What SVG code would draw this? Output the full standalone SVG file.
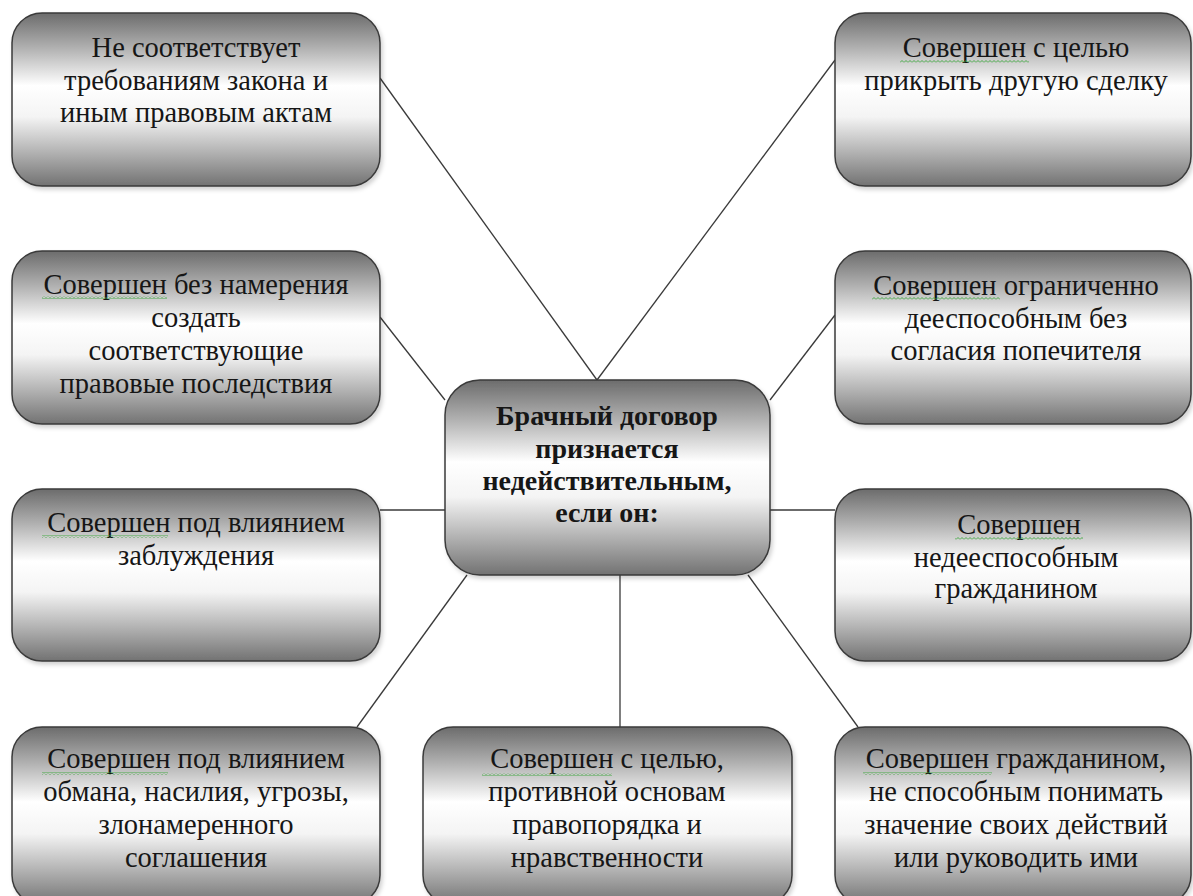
<svg xmlns="http://www.w3.org/2000/svg" width="1193" height="896" viewBox="0 0 1193 896">
<defs>
<linearGradient id="g" x1="0" y1="0" x2="0" y2="1">
<stop offset="0" stop-color="#6c6c6c"/>
<stop offset="0.2" stop-color="#b0b0b0"/>
<stop offset="0.42" stop-color="#ffffff"/>
<stop offset="0.6" stop-color="#f4f4f4"/>
<stop offset="0.8" stop-color="#b4b4b4"/>
<stop offset="1" stop-color="#727272"/>
</linearGradient>
<filter id="sh" x="-5%" y="-5%" width="115%" height="115%">
<feDropShadow dx="2" dy="3" stdDeviation="2" flood-color="#000" flood-opacity="0.18"/>
</filter>
<pattern id="wave" width="4" height="3" patternUnits="userSpaceOnUse">
<path d="M0 2.5 L2 0.5 L4 2.5" fill="none" stroke="#3aa63a" stroke-width="0.9"/>
</pattern>
<style>
.box{fill:url(#g);stroke:#3a3a3a;stroke-width:1.5;filter:url(#sh)}
.t{font-family:'Liberation Serif','DejaVu Serif',serif;font-size:28.5px;fill:#161616;text-anchor:middle}
.b{font-weight:bold;font-size:28px}
.c{stroke:#3a3a3a;stroke-width:1.3;fill:none}
.w{fill:url(#wave)}
</style>
</defs>
<rect width="1193" height="896" fill="#ffffff"/>
<g id="connectors">
<line class="c" x1="380" y1="78" x2="597" y2="380"/>
<line class="c" x1="835" y1="60" x2="597" y2="380"/>
<line class="c" x1="380" y1="317" x2="445" y2="400"/>
<line class="c" x1="835" y1="315" x2="770" y2="400"/>
<line class="c" x1="380" y1="510" x2="445" y2="510"/>
<line class="c" x1="770" y1="510" x2="835" y2="510"/>
<line class="c" x1="357" y1="727" x2="467" y2="575"/>
<line class="c" x1="620" y1="575" x2="620" y2="727"/>
<line class="c" x1="748" y1="575" x2="858" y2="727"/>
</g>
<g id="n1">
<rect class="box" x="12" y="13" width="368" height="173" rx="30"/>
<text class="t" x="196" y="57">Не соответствует</text>
<text class="t" x="196" y="90">требованиям закона и</text>
<text class="t" x="196" y="122">иным правовым актам</text>
</g>
<g id="n2">
<rect class="box" x="835" y="13" width="356" height="173" rx="30"/>
<text class="t" x="1016" y="57">Совершен с целью</text>
<text class="t" x="1016" y="90">прикрыть другую сделку</text>
<rect class="w" x="900" y="60" width="129" height="3"/>
</g>
<g id="n3">
<rect class="box" x="12" y="251" width="368" height="173" rx="30"/>
<text class="t" x="196" y="294">Совершен без намерения</text>
<text class="t" x="196" y="327">создать</text>
<text class="t" x="196" y="360">соответствующие</text>
<text class="t" x="196" y="393">правовые последствия</text>
<rect class="w" x="42" y="296" width="125" height="3"/>
</g>
<g id="n4">
<rect class="box" x="835" y="251" width="356" height="173" rx="30"/>
<text class="t" x="1016" y="295">Совершен ограниченно</text>
<text class="t" x="1016" y="328">дееспособным без</text>
<text class="t" x="1016" y="360">согласия попечителя</text>
<rect class="w" x="872" y="297" width="128" height="3"/>
</g>
<g id="center">
<rect class="box" x="445" y="380" width="325" height="195" rx="35"/>
<text class="t b" x="607" y="425">Брачный договор</text>
<text class="t b" x="607" y="458">признается</text>
<text class="t b" x="607" y="490">недействительным,</text>
<text class="t b" x="607" y="522">если он:</text>
</g>
<g id="n5">
<rect class="box" x="12" y="489" width="368" height="172" rx="30"/>
<text class="t" x="196" y="532">Совершен под влиянием</text>
<text class="t" x="196" y="565">заблуждения</text>
<rect class="w" x="42" y="535" width="126" height="3"/>
</g>
<g id="n6">
<rect class="box" x="835" y="489" width="356" height="172" rx="30"/>
<text class="t" x="1019" y="534">Совершен</text>
<text class="t" x="1016" y="567">недееспособным</text>
<text class="t" x="1016" y="598">гражданином</text>
<rect class="w" x="955" y="537" width="128" height="3"/>
</g>
<g id="n7">
<rect class="box" x="12" y="727" width="368" height="178" rx="30"/>
<text class="t" x="196" y="768">Совершен под влиянием</text>
<text class="t" x="196" y="801">обмана, насилия, угрозы,</text>
<text class="t" x="196" y="834">злонамеренного</text>
<text class="t" x="196" y="867">соглашения</text>
<rect class="w" x="42" y="772" width="126" height="3"/>
</g>
<g id="n8">
<rect class="box" x="423" y="727" width="369" height="178" rx="30"/>
<text class="t" x="607" y="768">Совершен с целью,</text>
<text class="t" x="607" y="801">противной основам</text>
<text class="t" x="607" y="834">правопорядка и</text>
<text class="t" x="607" y="867">нравственности</text>
<rect class="w" x="482" y="773" width="130" height="3"/>
</g>
<g id="n9">
<rect class="box" x="835" y="727" width="356" height="178" rx="30"/>
<text class="t" x="1016" y="768">Совершен гражданином,</text>
<text class="t" x="1016" y="801">не способным понимать</text>
<text class="t" x="1016" y="834">значение своих действий</text>
<text class="t" x="1016" y="867">или руководить ими</text>
<rect class="w" x="863" y="772" width="129" height="3"/>
</g>
</svg>
